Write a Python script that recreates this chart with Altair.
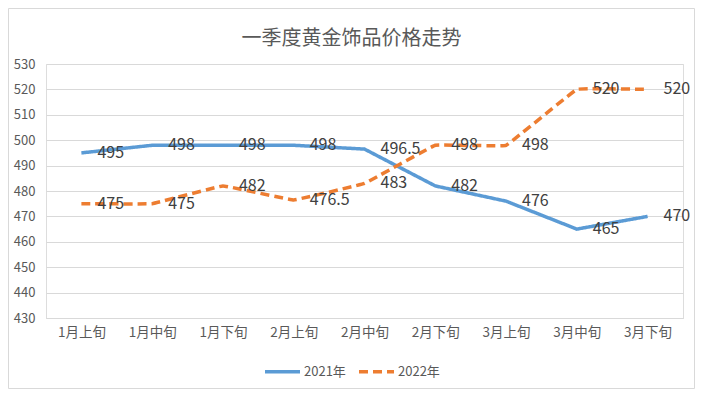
import altair as alt
import pandas as pd

periods = ["1月上旬", "1月中旬", "1月下旬", "2月上旬", "2月中旬", "2月下旬", "3月上旬", "3月中旬", "3月下旬"]
series_names = ["2021年", "2022年"]
values_2021 = [495, 498, 498, 498, 496.5, 482, 476, 465, 470]
values_2022 = [475, 475, 482, 476.5, 483, 498, 498, 520, 520]
y_ticks = [430, 440, 450, 460, 470, 480, 490, 500, 510, 520, 530]

rows = []
for i, p in enumerate(periods):
    rows.append({"period": p, "series": series_names[0], "value": values_2021[i], "order": i})
for i, p in enumerate(periods):
    rows.append({"period": p, "series": series_names[1], "value": values_2022[i], "order": i})
df = pd.DataFrame(rows)

FONT = "Noto Sans CJK SC"
GRAY = "#595959"
GRID = "#D9D9D9"

x_enc = alt.X("period:N", sort=periods, scale=alt.Scale(padding=0.5),
              axis=alt.Axis(title=None, labelAngle=0, ticks=False, domainColor=GRID,
                            labelColor=GRAY, labelFontSize=13.5, labelFont=FONT, labelPadding=7,
                            grid=False))
y_enc = alt.Y("value:Q", scale=alt.Scale(domain=[430, 530], nice=False, zero=False),
              axis=alt.Axis(title=None, values=y_ticks, ticks=False, domain=False,
                            gridColor=GRID, labelColor=GRAY, labelFontSize=13,
                            labelFont=FONT, labelPadding=11, labelOverlap=False))

color_enc = alt.Color("series:N", scale=alt.Scale(domain=series_names, range=["#5B9BD5", "#ED7D31"]),
                      legend=alt.Legend(title=None, orient="none", legendX=217, legendY=288,
                                        direction="horizontal", symbolType="stroke",
                                        symbolSize=1225, symbolStrokeWidth=3.5,
                                        labelFont=FONT, labelFontSize=13, labelColor=GRAY,
                                        columnPadding=6, labelOffset=2))
dash_enc = alt.StrokeDash("series:N", scale=alt.Scale(domain=series_names, range=[[1, 0], [9, 5]]),
                          legend=None)

base = alt.Chart(df)

line_2021 = base.transform_filter(alt.datum.series == series_names[0]).mark_line(
    strokeWidth=3.5, interpolate="linear").encode(
    x=x_enc, y=y_enc, color=color_enc, strokeDash=dash_enc, order="order:Q")

line_2022 = base.transform_filter(alt.datum.series == series_names[1]).mark_line(
    strokeWidth=3.5, interpolate="cardinal", tension=0.85).encode(
    x=x_enc, y=y_enc, color=color_enc, strokeDash=dash_enc, order="order:Q")

labels = base.mark_text(align="left", baseline="middle", dx=16, fontSize=16,
                        font=FONT, color="#404040").encode(
    x=x_enc,
    y=y_enc,
    text="value:Q",
)

border = alt.Chart(pd.DataFrame({"k": [0]})).mark_rect(fill=None, stroke=GRID, strokeWidth=1).encode(
    x=alt.value(-37.5), x2=alt.value(648.5), y=alt.value(-55.5), y2=alt.value(324.5)
)

chart = alt.layer(border, line_2021, line_2022, labels).properties(
    width=637,
    height=254,
    title=alt.TitleParams("一季度黄金饰品价格走势", font=FONT, fontSize=20, fontWeight="normal",
                          color=GRAY, anchor="middle", dx=-13, offset=-41),
    autosize=alt.AutoSizeParams(type="none"),
    padding={"left": 38, "top": 56, "right": 12, "bottom": 71},
).configure_view(stroke=None).configure(background="white")

chart.save("out.html", embed_options={"renderer": "svg", "actions": False})
